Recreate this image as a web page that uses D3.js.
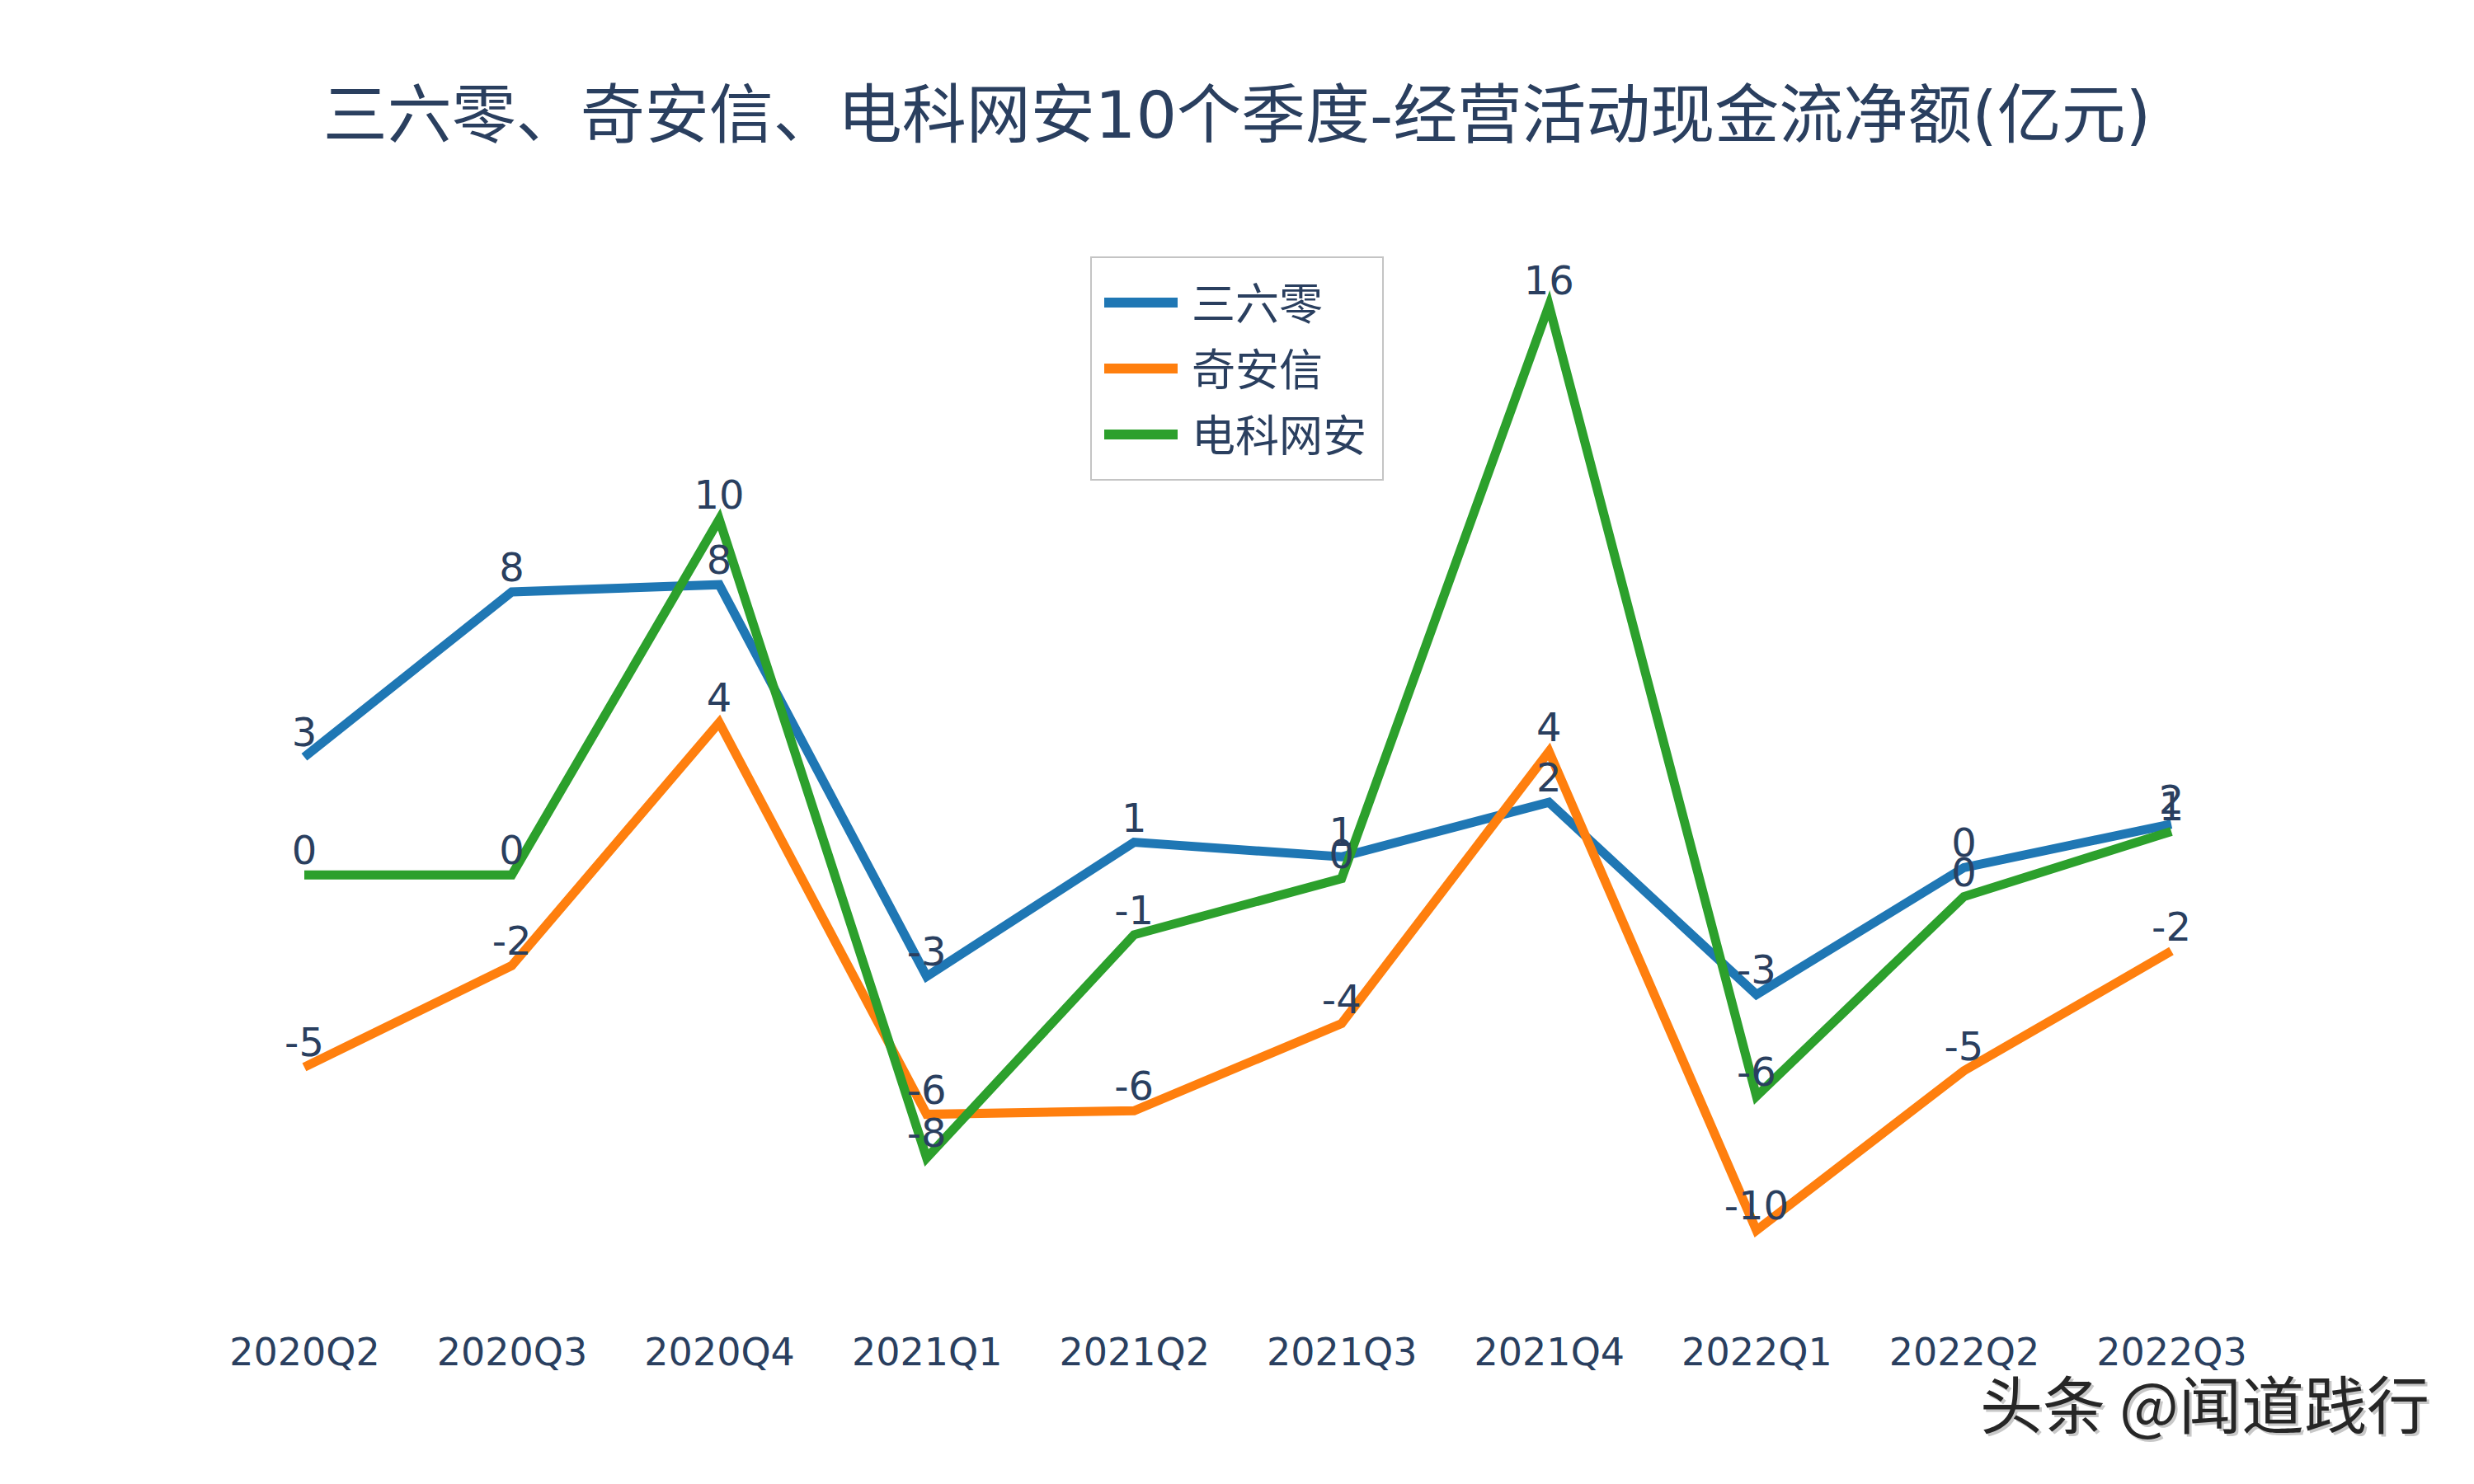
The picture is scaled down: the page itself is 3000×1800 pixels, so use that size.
<!DOCTYPE html>
<html>
  <head>
    <meta charset="utf-8">
    <style>
    body { margin: 0; background: #fff; }
    #chart-area svg { display: block; }
    text { font-family: "DejaVu Sans", "Noto Sans CJK SC", sans-serif; fill: #2a3f5f; }
    </style>
  </head>
  <body>
    <div id="chart-area"></div>

    <script src="https://cdn.jsdelivr.net/npm/d3@7/dist/d3.min.js"></script>
    <script>
      // data (亿元)
      const quarters = ["2020Q2", "2020Q3", "2020Q4", "2021Q1", "2021Q2",
                        "2021Q3", "2021Q4", "2022Q1", "2022Q2", "2022Q3"];
      const sanliuling = [3.45, 8.0, 8.2, -2.6, 1.1, 0.7, 2.2, -3.1, 0.4, 1.6];
      const qianxin = [-5.1, -2.3, 4.4, -6.4, -6.3, -3.9, 3.6, -9.6, -5.2, -1.9];
      const dianke = [0.2, 0.2, 10.0, -7.6, -1.45, 0.1, 15.9, -5.9, -0.4, 1.4];
      const seriesNames = ["三六零", "奇安信", "电科网安"];
      const colors = ["#1f77b4", "#ff7f0e", "#2ca02c"];

      const width = 3000;
      const height = 1800;

      const series = [sanliuling, qianxin, dianke].map((values, i) => ({
        name: seriesNames[i],
        color: colors[i],
        values: values
      }));

      const svg = d3.select("#chart-area")
        .append("svg")
          .attr("width", width)
          .attr("height", height);

      svg.append("rect")
        .attr("width", width)
        .attr("height", height)
        .attr("fill", "#fff");

      const x = d3.scalePoint()
        .domain(quarters)
        .range([369, 2633]);

      const y = d3.scaleLinear()
        .domain([-10, 16])
        .range([1510, 366]);

      // title
      svg.append("text")
        .attr("x", width / 2)
        .attr("y", 167)
        .attr("text-anchor", "middle")
        .attr("font-size", 78)
        .text("三六零、奇安信、电科网安10个季度-经营活动现金流净额(亿元)");

      // x axis, labels only
      const xAxis = d3.axisBottom(x).tickSize(0).tickPadding(0);
      const gx = svg.append("g")
        .attr("transform", "translate(0, 1620)")
        .call(xAxis);
      gx.select(".domain").remove();
      gx.selectAll("text")
        .attr("font-size", 46)
        .attr("dy", null)
        .attr("y", 36)
        .style("fill", "#2a3f5f");

      const line = d3.line()
        .x((d, i) => x(quarters[i]))
        .y(d => y(d));

      svg.selectAll(".series")
        .data(series)
        .enter().append("path")
          .attr("class", "series")
          .attr("fill", "none")
          .attr("stroke", d => d.color)
          .attr("stroke-width", 11)
          .attr("d", d => line(d.values));

      // value labels on top of each point
      series.forEach(s => {
        svg.append("g").selectAll("text")
          .data(s.values)
          .enter().append("text")
            .attr("x", (d, i) => x(quarters[i]))
            .attr("y", d => y(d) - 13)
            .attr("text-anchor", "middle")
            .attr("font-size", 48)
            .text(d => String(Math.round(d)));
      });

      // legend
      const legend = svg.append("g")
        .attr("transform", "translate(1323, 312)");

      legend.append("rect")
        .attr("width", 354)
        .attr("height", 270)
        .attr("fill", "#fff")
        .attr("stroke", "#c4c4c4")
        .attr("stroke-width", 2);

      const item = legend.selectAll(".item")
        .data(series)
        .enter().append("g")
          .attr("class", "item")
          .attr("transform", (d, i) => `translate(0, ${55 + i * 80})`);

      item.append("line")
        .attr("x1", 16)
        .attr("x2", 105)
        .attr("stroke", d => d.color)
        .attr("stroke-width", 12);

      item.append("text")
        .attr("x", 122)
        .attr("y", 2)
        .attr("dominant-baseline", "central")
        .attr("font-size", 53)
        .text(d => d.name);

      // watermark, with a soft grey shadow behind it
      const mark = "头条 @闻道践行";
      svg.append("text")
        .attr("x", 2949)
        .attr("y", 1736)
        .attr("text-anchor", "end")
        .attr("font-size", 76)
        .style("fill", "#c8c8c8")
        .style("font-family", "'Noto Sans CJK SC', sans-serif")
        .text(mark);
      svg.append("text")
        .attr("x", 2946)
        .attr("y", 1733)
        .attr("text-anchor", "end")
        .attr("font-size", 76)
        .style("fill", "#262626")
        .style("font-family", "'Noto Sans CJK SC', sans-serif")
        .text(mark);
    </script>
  </body>
</html>
